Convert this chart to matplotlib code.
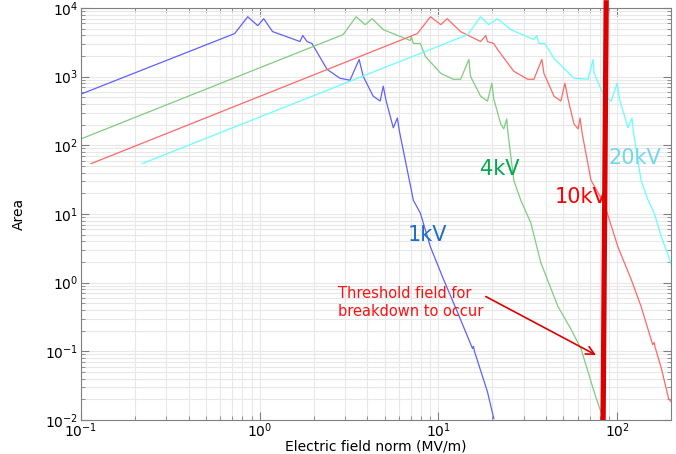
import matplotlib
matplotlib.use("Agg")
import matplotlib.pyplot as plt
from matplotlib.ticker import LogLocator, NullFormatter

plt.rcParams['font.family'] = ['DejaVu Sans']

# ---- data ----
x_1kv = [0.1, 0.724, 0.857, 0.975, 1.053, 1.18, 1.68, 1.74, 1.84, 1.96, 2.38, 2.81, 3.2, 3.6,
         3.79, 4.31, 4.72, 4.91, 5.1, 5.59, 5.89, 6.04, 7.24, 7.92, 9.02, 10.7, 12.8, 15.5,
         15.7, 15.9, 18.8, 20.4]
y_1kv = [557, 4240, 7460, 5530, 6980, 4530, 3250, 3970, 3250, 3040, 1280, 948, 887, 1783,
         1014, 521, 441, 727, 441, 180, 250, 163, 15.8, 10.3, 3.31, 1.10, 0.368, 0.110,
         0.118, 0.100, 0.0257, 0.0105]

x_4kv = [0.1, 2.93, 3.46, 3.89, 4.26, 4.91, 6.12, 6.96, 7.05, 7.24, 7.92, 8.45, 10.3, 12.1,
         13.3, 14.8, 15.1, 17.2, 18.8, 19.9, 20.4, 22.3, 23.2, 24.1, 24.4, 26.4, 28.9, 32.9,
         37.4, 46.6, 55.2, 62.8, 74.3, 83.4]
y_4kv = [124, 4100, 7460, 5720, 6980, 4840, 3840, 3360, 3840, 3040, 3040, 1970, 1119, 916,
         916, 1783, 1014, 521, 441, 803, 471, 205, 174, 242, 163, 30.8, 15.8, 7.36,
         1.95, 0.45, 0.209, 0.108, 0.0257, 0.0105]

x_10kv = [0.114, 7.62, 9.02, 10.3, 11.2, 13.3, 17.2, 18.4, 18.8, 20.4, 21.4, 26.4, 31.6,
          34.2, 37.9, 38.9, 44.3, 48.4, 51.0, 53.1, 57.3, 60.4, 62.0, 63.6, 71.4, 84.5,
          101, 120, 136, 158, 161, 163, 177, 194, 204]
y_10kv = [54.2, 4240, 7460, 5720, 6980, 4530, 3250, 3970, 3250, 3040, 2490, 1197, 916,
          916, 1783, 1119, 521, 441, 803, 471, 205, 174, 250, 152, 30.8, 14.3,
          3.31, 1.10, 0.45, 0.125, 0.135, 0.115, 0.0553, 0.0204, 0.0173]

x_20kv = [0.220, 14.6, 17.2, 19.1, 21.4, 25.4, 34.2, 35.5, 36.5, 39.4, 44.3, 57.3, 68.7,
          73.3, 74.3, 84.5, 92.5, 100, 103, 115, 121, 123, 136, 149, 161, 177, 204]
y_20kv = [54.2, 4100, 7460, 5720, 6980, 4840, 3470, 3970, 3040, 3040, 1845, 948, 916,
          1783, 1119, 521, 441, 803, 471, 180, 250, 163, 30.8, 15.8, 10.3, 4.62, 1.65]

series_labels = ["1kV", "4kV", "10kV", "20kV"]
label_pos_x = [8.73, 22.0, 62.8, 125]
label_pos_y = [4.94, 45.9, 17.5, 66.2]

threshold_x = [83.4, 86.8]
threshold_y = [1e-2, 1.3e4]

# ---- figure ----
fig = plt.figure(figsize=(6.76, 4.54), dpi=100)
ax = fig.add_axes([0.1198, 0.0749, 0.8728, 0.9075])

line_colors = ['#6060ff', '#80cc80', '#ff6868', '#66ffff']
text_colors = ['#1f6fc6', '#00a84f', '#ff0000', '#70d8e8']
xs = [x_1kv, x_4kv, x_10kv, x_20kv]
ys = [y_1kv, y_4kv, y_10kv, y_20kv]
for xv, yv, c in zip(xs, ys, line_colors):
    ax.plot(xv, yv, color=c, lw=0.9)

for lab, lx, ly, c in zip(series_labels, label_pos_x, label_pos_y, text_colors):
    ax.text(lx, ly, lab, color=c, fontsize=15, ha='center', va='center')

ax.plot(threshold_x, threshold_y, color='#dd0000', lw=3.8, clip_on=False, zorder=5,
        solid_capstyle='butt')

ax.text(2.74, 0.514, "Threshold field for\nbreakdown to occur", color='#ff1010',
        fontsize=10.5, ha='left', va='center', linespacing=1.2)
ax.annotate("", xy=(76.2, 0.0881), xytext=(18.4, 0.628),
            arrowprops=dict(arrowstyle='->', color='#e00000', lw=1.2,
                            mutation_scale=15, shrinkA=0, shrinkB=0))

ax.set_xscale('log')
ax.set_yscale('log')
ax.set_xlim(0.1, 200)
ax.set_ylim(1e-2, 1e4)

ax.xaxis.set_major_locator(LogLocator(base=10, numticks=10))
ax.yaxis.set_major_locator(LogLocator(base=10, numticks=10))
ax.xaxis.set_minor_locator(LogLocator(base=10, subs=range(2, 10), numticks=20))
ax.yaxis.set_minor_locator(LogLocator(base=10, subs=range(2, 10), numticks=20))
ax.xaxis.set_minor_formatter(NullFormatter())
ax.yaxis.set_minor_formatter(NullFormatter())

ax.grid(True, which='both', color='#e8e8e8', lw=0.8)
ax.set_axisbelow(True)
ax.tick_params(which='both', direction='in', top=True, right=True, colors='#808080',
               labelcolor='black', labelsize=10)
ax.tick_params(which='major', length=6)
ax.tick_params(which='minor', length=3)
ax.tick_params(axis='x', which='major', pad=1)
ax.tick_params(axis='y', which='major', pad=2)
for s in ax.spines.values():
    s.set_color('#808080')

ax.set_xlabel("Electric field norm (MV/m)", fontsize=10, labelpad=0)
ax.set_ylabel("Area", fontsize=10, labelpad=14)

fig.savefig("out.png", dpi=100)
